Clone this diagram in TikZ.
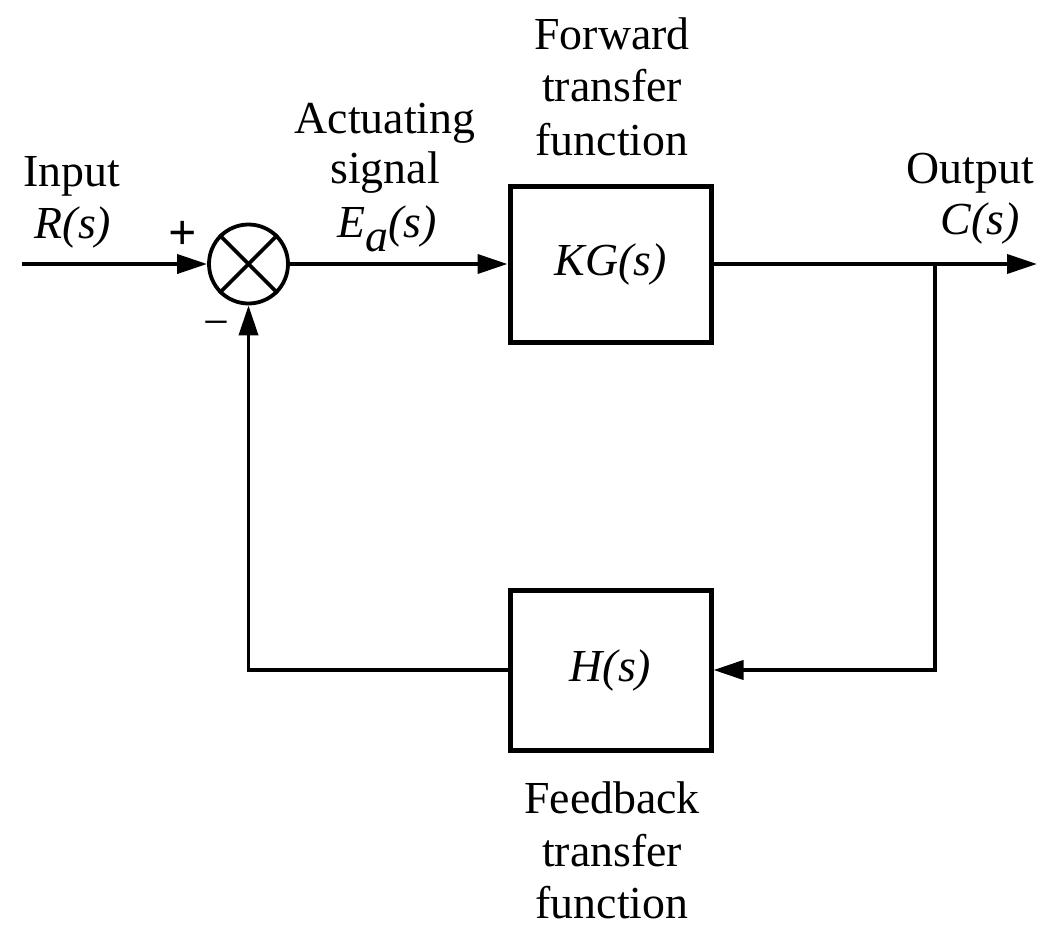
\documentclass[tikz,border=0pt]{standalone}
\usepackage{fontspec}
\setmainfont{Liberation Serif}
\usetikzlibrary{arrows.meta}
\begin{document}
\begin{tikzpicture}[x=1bp,y=-1bp,line width=3.8bp,
  lbl/.style={font=\fontsize{46}{52}\selectfont,inner sep=0,anchor=base},
  blk/.style={draw,line width=5bp,minimum width=201bp,inner sep=0,
    font=\fontsize{46}{52}\selectfont\itshape},
  sumj/.style={draw,circle,minimum size=79bp,inner sep=0,line width=3.8bp},
  arr/.style={-{Triangle[length=30bp,width=19bp]}}]
\path[use as bounding box] (0,0) rectangle (1037,927);
\clip (0,0) rectangle (1037,927);
% blocks
\node[blk,minimum height=156bp] (kg) at (610.5,264) {KG(s)};
\node[blk,minimum height=160bp] (h) at (610.5,670) {H(s)};
\node[sumj] (sum) at (248.5,264) {};
\draw (sum.45) -- (sum.225);
\draw (sum.135) -- (sum.315);
% coordinates
\coordinate (in) at (22,264);
\coordinate (out) at (1037,264);
\coordinate (br) at (935,264);
% connectors
\draw[arr] (in) -- (sum.west);
\draw[arr] (sum.east) -- (kg.west);
\draw[arr] (kg.east) -- (out);
\draw[arr] (br) |- (h.east);
\draw[arr] (h.west) -| (sum.south);
% labels
\node[lbl] (linp) at (72,186) {Input};
\node[lbl] (lrs) at (73,238) {\itshape R(s)};
\node[font=\fontsize{50}{50}\selectfont\bfseries,inner sep=0] (lplus) at (183,235) {+};
\node[font=\fontsize{46}{46}\selectfont,inner sep=0] (lminus) at (216,329) {−};
\node[lbl] (lact) at (385,133) {Actuating};
\node[lbl] (lsig) at (385,183) {signal};
\node[lbl] (lea) at (387,237) {\itshape E\raisebox{-0.32em}{a}(s)};
\node[lbl] (lfw1) at (612,49) {Forward};
\node[lbl] (lfw2) at (612,101) {transfer};
\node[lbl] (lfw3) at (612,155) {function};
\node[lbl,anchor=base west] (lout) at (905,183) {Output};
\node[lbl] (lcs) at (980,234) {\itshape C(s)};
\node[lbl] (lfb1) at (612,813) {Feedback};
\node[lbl] (lfb2) at (612,866) {transfer};
\node[lbl] (lfb3) at (612,918) {function};
\end{tikzpicture}
\end{document}
